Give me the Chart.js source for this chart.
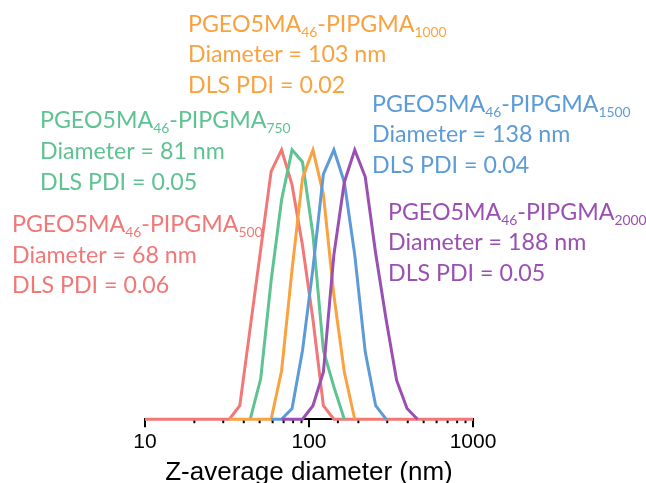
<!DOCTYPE html>
<html>
<head>
<meta charset="utf-8">
<script src="https://cdn.jsdelivr.net/npm/chart.js@4.4.1/dist/chart.umd.min.js"></script>
<style>
  html, body { margin: 0; padding: 0; background: #fff; }
  canvas { display: block; }
</style>
</head>
<body>
<canvas id="chart" width="646" height="483"></canvas>
<script>
// DLS size classes (nm)
const sizes = [8.721, 10.10, 11.70, 13.54, 15.69, 18.17, 21.04, 24.36, 28.21, 32.67,
               37.84, 43.82, 50.75, 58.77, 68.06, 78.82, 91.28, 105.7, 122.4, 141.8,
               164.2, 190.1, 220.2, 255.0, 295.3, 342.0, 396.1, 458.7, 531.2, 615.1,
               712.4, 825.0, 955.4, 1106];

// intensity (%) per size class, null = not plotted
const n = null;
const pipgma500  = [0, 0, 0, 0, 0, 0, 0, 0, 0, 0, 1.0, 6.8, 12.6, 18.4, 20.0, 17.4, 12.9, 7.4, 1.0, 0,
                    0, 0, 0, 0, 0, 0, 0, 0, 0, 0, 0, 0, 0, 0];
const pipgma750  = [n, n, n, n, n, n, n, n, n, n, n, 0, 3.0, 10.3, 16.3, 20.0, 19.1, 13.7, 5.1, 2.4,
                    0, n, n, n, n, n, n, n, n, n, n, n, n, n];
const pipgma1000 = [n, n, n, n, n, n, n, n, n, 0, 0, 0, 0, 0, 3.6, 11.1, 17.9, 20.0, 16.7, 9.2,
                    3.5, 0, n, n, n, n, n, n, n, n, n, n, n, n];
const pipgma1500 = [n, n, n, n, n, n, n, n, n, n, n, n, n, 0, 0, 0.8, 5.1, 11.2, 18.2, 20.0,
                    17.6, 12.2, 5.0, 1.0, 0, n, n, n, n, n, n, n, n, n];
const pipgma2000 = [n, n, n, n, n, n, n, n, n, n, n, n, n, n, 0, 0, 0, 1.0, 3.5, 12.2,
                    17.6, 20.0, 18.0, 12.3, 7.4, 2.9, 0.8, 0, n, n, n, n, n, n];

const dpLabels = ['500', '750', '1000', '1500', '2000'];
const diameters = [68, 81, 103, 138, 188];
const pdis = ['0.06', '0.05', '0.02', '0.04', '0.05'];
const colors = ['#F27777', '#5EC391', '#F9A23F', '#5C9BD8', '#9A4FB2'];
const tickLabels = [10, 100, 1000];

const series = [pipgma500, pipgma750, pipgma1000, pipgma1500, pipgma2000];
const drawOrder = [5, 4, 3, 2, 1];

function toPoints(vals) {
    const pts = [];
    vals.forEach((v, i) => { if (v !== null) pts.push({x: sizes[i], y: v}); });
    return pts;
}

// where each text block starts (left, first baseline)
const labelPos = [[12, 231.7], [40, 128.3], [188, 31.5], [372, 111.5], [388, 219.5]];
const lineGap = 30.8;

let textSize = 23;
(function () {
    const c = document.createElement('canvas').getContext('2d');
    c.font = '100px Lato';
    textSize = 100 * 185 / c.measureText('Diameter = 68 nm').width;
})();

const annotations = {
    id: 'annotations',
    afterDraw(chart) {
        const ctx = chart.ctx;
        const big = textSize + 'px Lato';
        const small = (textSize * 0.6) + 'px Lato';
        ctx.save();
        ctx.textAlign = 'left';
        ctx.textBaseline = 'alphabetic';
        dpLabels.forEach((dp, i) => {
            const [x, y] = labelPos[i];
            ctx.fillStyle = colors[i];
            let cx = x;
            [['PGEO5MA', false], ['46', true], ['-PIPGMA', false], [dp, true]].forEach(([t, sub]) => {
                ctx.font = sub ? small : big;
                ctx.fillText(t, cx, y + (sub ? 5 : 0));
                cx += ctx.measureText(t).width;
            });
            ctx.font = big;
            ctx.fillText('Diameter = ' + diameters[i] + ' nm', x, y + lineGap);
            ctx.fillText('DLS PDI = ' + pdis[i], x, y + 2 * lineGap);
        });
        ctx.restore();
    }
};

// major / minor tick marks on the log axis
const tickMarks = {
    id: 'tickMarks',
    beforeDatasetsDraw(chart) {
        const scale = chart.scales.x;
        const ctx = chart.ctx;
        ctx.save();
        ctx.strokeStyle = '#000';
        ctx.lineWidth = 2;
        scale.ticks.forEach(t => {
            const px = scale.getPixelForValue(t.value);
            const major = tickLabels.includes(t.value);
            ctx.beginPath();
            ctx.moveTo(px, scale.top);
            ctx.lineTo(px, scale.top + (major ? 8 : 4));
            ctx.stroke();
        });
        ctx.restore();
    }
};

const data = {
    datasets: series.map((vals, i) => ({
        label: 'PIPGMA' + dpLabels[i],
        data: toPoints(vals),
        borderColor: colors[i],
        backgroundColor: colors[i],
        borderWidth: 3,
        pointRadius: 0,
        tension: 0,
        fill: false,
        order: drawOrder[i],
        clip: {left: 0, right: 0, top: 5, bottom: 5}
    }))
};

const config = {
    type: 'line',
    data: data,
    options: {
        responsive: false,
        animation: false,
        devicePixelRatio: 1,
        layout: {
            padding: {left: 145, right: 173, top: 96, bottom: -8}
        },
        scales: {
            x: {
                type: 'logarithmic',
                min: 10,
                max: 1000,
                grid: {display: false, drawTicks: true, tickLength: 8},
                border: {display: true, color: '#000', width: 2},
                ticks: {
                    autoSkip: false,
                    maxRotation: 0,
                    padding: 2,
                    color: '#000',
                    font: {family: 'Liberation Sans', size: 21},
                    callback: (v) => tickLabels.includes(v) ? String(v) : ''
                },
                title: {
                    display: true,
                    text: 'Z-average diameter (nm)',
                    color: '#000',
                    font: {family: 'Liberation Sans', size: 26, lineHeight: 1.1},
                    padding: {top: 2, bottom: 4}
                }
            },
            y: {
                display: false,
                min: 0,
                max: 24
            }
        },
        plugins: {
            legend: {display: false},
            tooltip: {enabled: false}
        }
    },
    plugins: [tickMarks, annotations]
};

const chart = new Chart(document.getElementById('chart').getContext('2d'), config);
</script>
</body>
</html>
